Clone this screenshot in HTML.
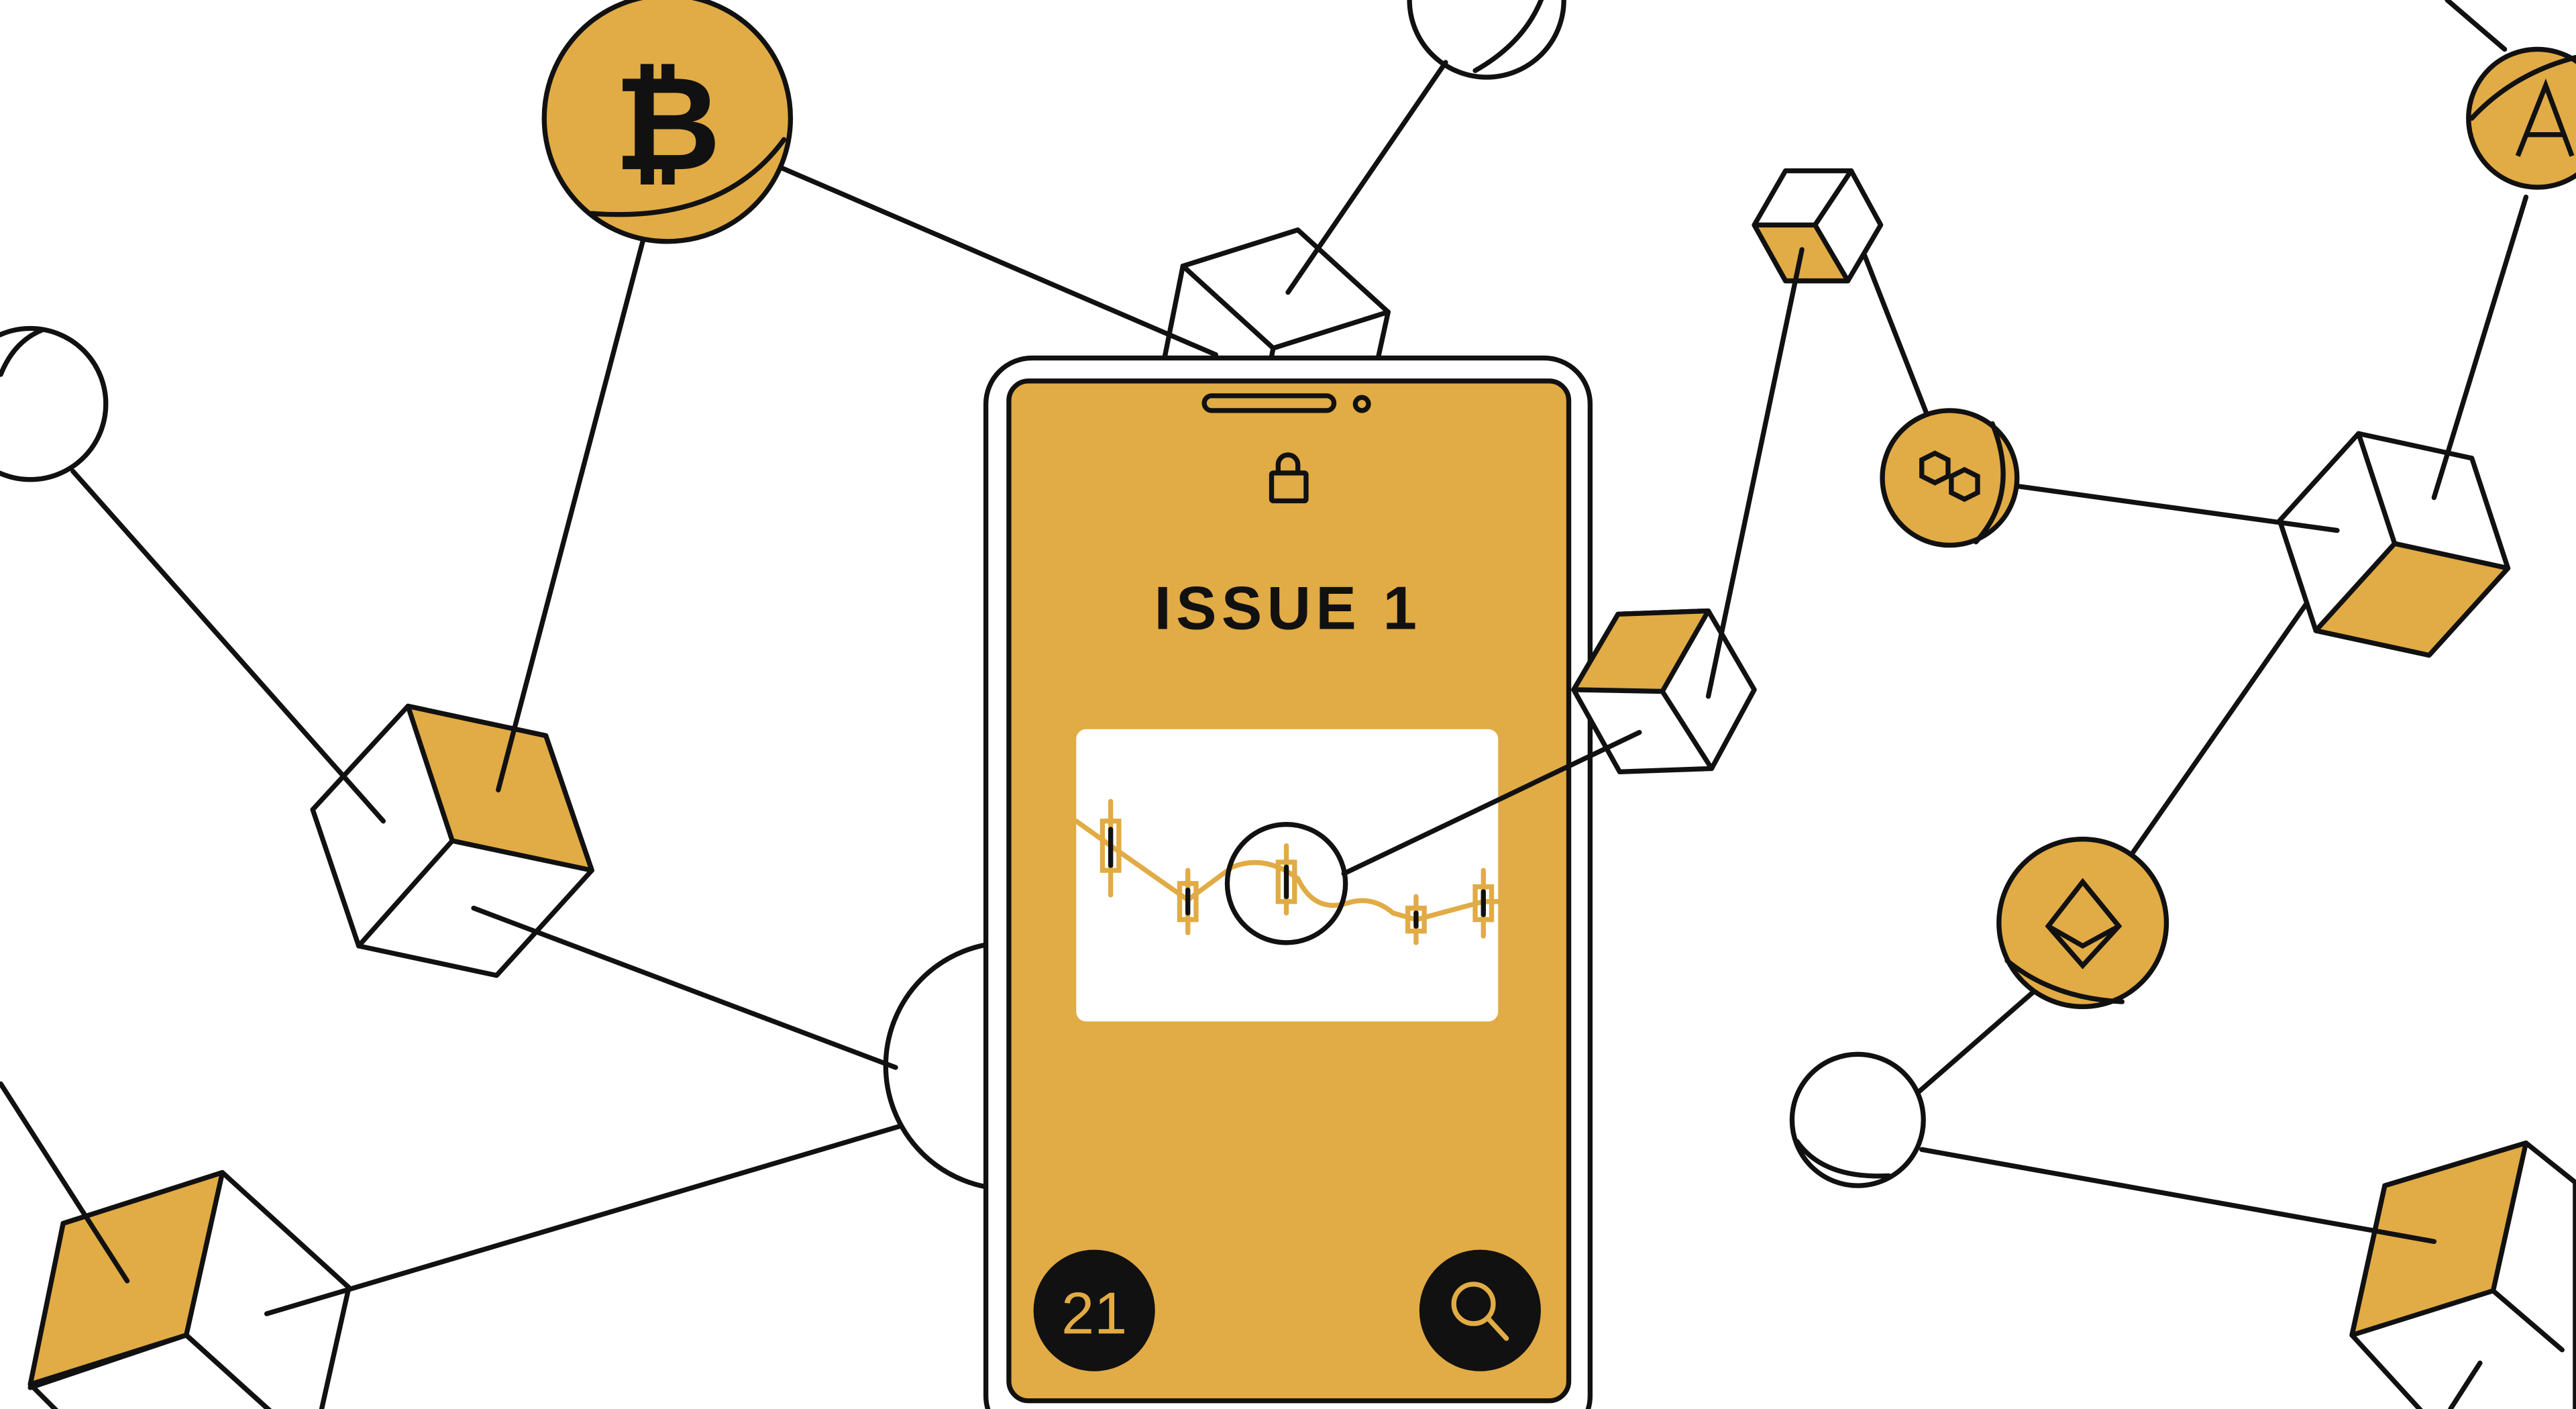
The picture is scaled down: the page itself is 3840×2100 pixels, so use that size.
<!DOCTYPE html>
<html><head><meta charset="utf-8"><style>
html,body{margin:0;padding:0;background:#fff;}
svg{display:block;}
</style></head><body>
<svg width="3840" height="2100" viewBox="0 0 1568 858" xmlns="http://www.w3.org/2000/svg">
<g stroke="#111" stroke-width="3" stroke-linejoin="round" stroke-linecap="round" fill="none">
<!-- circles -->
<circle cx="406" cy="72" r="75" fill="#E1AB45"/>
<path d="M360 130 Q440 136 477 85"/>
<circle cx="905" cy="0" r="47" fill="#fff"/>
<path d="M898 43 Q930 25 940 -5"/>
<circle cx="18" cy="246" r="46" fill="#fff"/>
<path d="M0 228 Q8 208 25 201"/>
<circle cx="1187" cy="291" r="41" fill="#E1AB45"/>
<path d="M1213 258 Q1230 300 1203 330"/>
<circle cx="1545" cy="72" r="42" fill="#E1AB45"/>
<path d="M1505 72 Q1530 45 1568 35"/>
<circle cx="1268" cy="562" r="51" fill="#E1AB45"/>
<path d="M1222 585 Q1250 608 1292 610"/>
<circle cx="1131" cy="682" r="40" fill="#fff"/>
<path d="M1094 695 Q1110 718 1150 716"/>
<circle cx="614" cy="649" r="75" fill="#fff"/>

<!-- left cube -->
<polygon points="248,430 332,448 360,530 302,594 218,576 190,493" fill="#fff"/>
<polygon points="248,430 332,448 360,530 275,512" fill="#E1AB45"/>
<line x1="275" y1="512" x2="218" y2="576"/>

<!-- bottom-left cube -->
<polygon points="38,745 135,714 212,784 195,860 165,860 113,813 18,845" fill="#fff"/>
<polygon points="38,745 135,714 113,813 18,843" fill="#E1AB45"/>
<line x1="113" y1="813" x2="165" y2="860"/>
<line x1="18" y1="843" x2="35" y2="860"/>

<!-- top cube behind phone -->
<polygon points="720,162 790,140 845,190 838,222 708,222" fill="#fff"/>
<polyline points="720,162 775,212 845,190"/>
<line x1="775" y1="212" x2="773" y2="222"/>

<!-- small cube -->
<polygon points="1068,137 1087,104 1127,104 1145,137 1125,171 1087,171" fill="#fff"/>
<polygon points="1068,137 1105,137 1125,171 1087,171" fill="#E1AB45"/>
<line x1="1105" y1="137" x2="1127" y2="104"/>

<!-- right cube -->
<polygon points="1436,264 1505,279 1527,346 1479,399 1410,384 1388,317" fill="#fff"/>
<polygon points="1458,331 1527,346 1479,399 1410,384" fill="#E1AB45"/>
<line x1="1458" y1="331" x2="1436" y2="264"/>

<!-- bottom-right cube -->
<polygon points="1452,722 1538,696 1568,720 1568,860 1475,860 1432,813" fill="#fff"/>
<polygon points="1452,722 1538,696 1518,786 1432,813" fill="#E1AB45"/>
<line x1="1518" y1="786" x2="1560" y2="822"/>

<!-- lines -->
<line x1="391" y1="147" x2="303" y2="481"/>
<line x1="44" y1="287" x2="233" y2="500"/>
<line x1="288" y1="553" x2="545" y2="650"/>
<line x1="547" y1="686" x2="162" y2="800"/>
<line x1="0" y1="660" x2="77" y2="780"/>
<line x1="475" y1="102" x2="740" y2="216"/>
<line x1="880" y1="38" x2="784" y2="178"/>
<line x1="1135" y1="155" x2="1173" y2="252"/>
<line x1="1228" y1="296" x2="1423" y2="323"/>
<line x1="1538" y1="120" x2="1482" y2="303"/>
<line x1="1490" y1="0" x2="1525" y2="30"/>
<line x1="1404" y1="368" x2="1298" y2="520"/>
<line x1="1238" y1="604" x2="1168" y2="665"/>
<line x1="1170" y1="700" x2="1482" y2="756"/>
<line x1="1510" y1="830" x2="1492" y2="858"/>

<!-- phone -->
<rect x="600" y="218" width="368" height="660" rx="28" fill="#fff"/>
<rect x="614" y="232" width="341" height="621" rx="12" fill="#E1AB45"/>
<rect x="733" y="241" width="79" height="9" rx="4.5" fill="#E1AB45"/>
<circle cx="829" cy="246" r="4"/>
<rect x="774" y="288" width="21" height="17" rx="1"/>
<path d="M778 288 v-5 a6 6 0 0 1 12 0 v5"/>

<!-- right of phone cube (on top of phone) -->
<polygon points="958,420 985,374 1040,372 1068,420 1042,468 986,470" fill="#fff"/>
<polygon points="958,420 985,374 1040,372 1012,421" fill="#E1AB45"/>
<line x1="1012" y1="421" x2="1042" y2="468"/>
<line x1="1040" y1="424" x2="1097" y2="152"/>
</g>
<text x="784" y="383" text-anchor="middle" font-family="Liberation Sans, sans-serif" font-weight="bold" font-size="37" letter-spacing="3" fill="#111">ISSUE 1</text>
<rect x="655" y="444" width="257" height="178" rx="6" fill="#fff"/>
<g stroke="#E1AB45" stroke-width="3" fill="none" stroke-linecap="round">
<path d="M655 500 L676 515 L723 548 L750 528 Q770 520 790 535 Q800 556 820 550 Q835 545 848 556 L862 560 L903 549 L912 549"/>
<line x1="676" y1="488" x2="676" y2="545"/><rect x="671" y="500" width="10" height="30"/>
<line x1="723" y1="530" x2="723" y2="568"/><rect x="718" y="538" width="10" height="22"/>
<line x1="783" y1="515" x2="783" y2="556"/><rect x="778" y="525" width="10" height="24"/>
<line x1="862" y1="546" x2="862" y2="574"/><rect x="857" y="553" width="10" height="14"/>
<line x1="903" y1="530" x2="903" y2="570"/><rect x="898" y="540" width="10" height="20"/>
</g>
<g stroke="#111" stroke-width="3" stroke-linecap="round">
<line x1="676" y1="505" x2="676" y2="527"/>
<line x1="723" y1="542" x2="723" y2="556"/>
<line x1="783" y1="528" x2="783" y2="546"/>
<line x1="862" y1="556" x2="862" y2="564"/>
<line x1="903" y1="543" x2="903" y2="557"/>
<circle cx="783" cy="538" r="36" fill="none"/>
<line x1="818" y1="532" x2="998" y2="446"/>
</g>
<circle cx="666" cy="798" r="37" fill="#111"/>
<text x="666" y="812" text-anchor="middle" font-family="Liberation Sans, sans-serif" font-size="36" fill="#E1AB45">21</text>
<circle cx="901" cy="798" r="37" fill="#111"/>
<circle cx="897" cy="794" r="12" stroke="#E1AB45" stroke-width="3" fill="none"/>
<line x1="906" y1="803" x2="917" y2="815" stroke="#E1AB45" stroke-width="3" stroke-linecap="round"/>
<text x="406" y="103" text-anchor="middle" font-family="DejaVu Sans, sans-serif" font-weight="bold" font-size="80" fill="#111">₿</text>
<g stroke="#111" stroke-width="3" fill="none">
<polygon points="1268,537 1290,564 1268,588 1247,564"/>
<polyline points="1247,564 1268,576 1290,564"/>
<polygon points="1178,276 1186,280 1186,290 1178,294 1170,290 1170,280"/>
<polygon points="1196,286 1204,290 1204,300 1196,304 1188,300 1188,290"/>
<path d="M1533 95 L1550 52 L1566 95 M1538 82 L1562 82"/>
</g>
</svg>
</body></html>
